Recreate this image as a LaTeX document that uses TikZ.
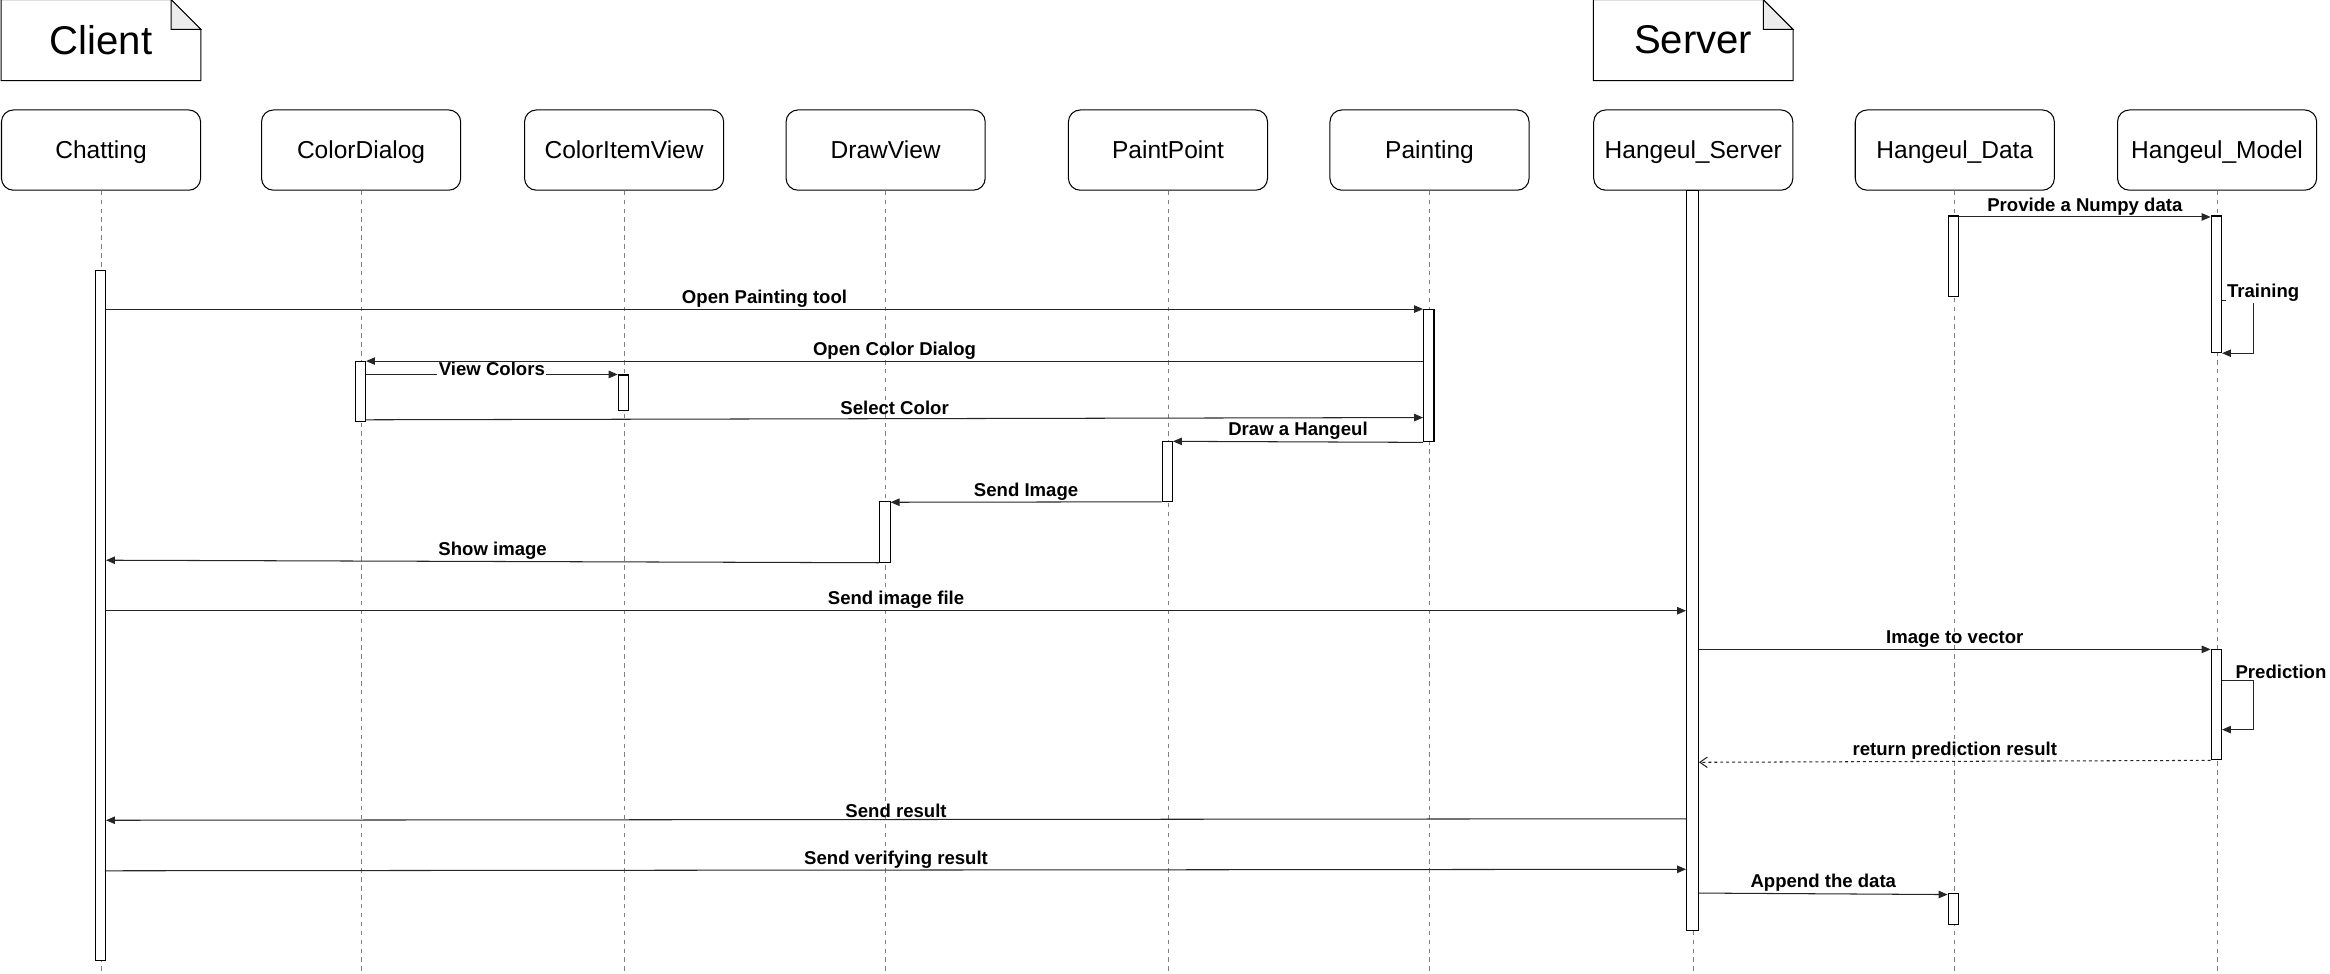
\documentclass[tikz,border=0pt]{standalone}
\usepackage{fontspec}
\setmainfont{Liberation Sans}
\usetikzlibrary{arrows.meta}
\begin{document}
\begin{tikzpicture}[x=1pt,y=-1pt,
  head/.style={draw, rounded corners=8pt, minimum width=134pt, minimum height=54pt, font=\fontsize{16.5}{18}\selectfont, inner sep=0pt, line width=0.7pt, text height=12pt, text depth=0pt},
  notebox/.style={minimum width=134pt, minimum height=54pt, font=\fontsize{27}{30}\selectfont, inner sep=0pt},
  notedraw/.style={line width=0.7pt},
  bar/.style={draw, fill=white, minimum width=7pt, inner sep=0pt, line width=0.7pt},
  life/.style={draw=gray, dash pattern=on 3pt off 3pt, line width=0.6pt},
  msg/.style={line width=0.7pt, draw=black!85, -{Triangle[length=6pt,width=5pt]}},
  ret/.style={line width=0.7pt, draw=black!85, dash pattern=on 2pt off 2pt, -{Straight Barb[length=5pt,width=7pt]}},
  lbl/.style={font=\bfseries\fontsize{12.5}{14}\selectfont, inner sep=1pt},
]
\useasboundingbox (0,0) rectangle (1568,655);

% notes
\node[notebox] (nClient) at (68,27) {Client};
\node[notebox] (nServer) at (1139.5,27) {Server};
\foreach \n in {nClient,nServer}{
  \draw[notedraw] (\n.north west) -- ([xshift=-20pt]\n.north east) -- ([yshift=-20pt]\n.north east) -- (\n.south east) -- (\n.south west) -- cycle;
  \draw[notedraw, fill=gray!15] ([xshift=-20pt]\n.north east) -- ([xshift=-20pt,yshift=-20pt]\n.north east) -- ([yshift=-20pt]\n.north east) -- cycle;
}

% heads
\node[head] (hChat) at (68,101) {Chatting};
\node[head] (hCD) at (243,101) {ColorDialog};
\node[head] (hCIV) at (420,101) {ColorItemView};
\node[head] (hDV) at (596,101) {DrawView};
\node[head] (hPP) at (786,101) {PaintPoint};
\node[head] (hPaint) at (962,101) {Painting};
\node[head] (hSrv) at (1139.5,101) {Hangeul\_Server};
\node[head] (hData) at (1315.5,101) {Hangeul\_Data};
\node[head] (hModel) at (1492,101) {Hangeul\_Model};

% lifelines
\foreach \h in {hChat,hCD,hCIV,hDV,hPP,hPaint,hSrv,hData,hModel}{
  \draw[life] (\h.south) -- (\h.south |- 0,655);
}

% activation bars
\node[bar, minimum height=464pt, anchor=north] (bChat) at (67.5,182) {};
\node[bar, minimum height=89pt, anchor=north] (bPaint) at (961.5,208) {};
\node[bar, minimum height=40pt, anchor=north] (bCD) at (242.5,243) {};
\node[bar, minimum height=24pt, anchor=north] (bCIV) at (419.5,252) {};
\node[bar, minimum height=40pt, anchor=north] (bPP) at (785.5,297) {};
\node[bar, minimum height=41pt, anchor=north] (bDV) at (595.5,337) {};
\node[bar, minimum height=498pt, minimum width=8pt, anchor=north] (bSrv) at (1139,128) {};
\node[bar, minimum height=54pt, anchor=north] (bData1) at (1314.5,145) {};
\node[bar, minimum height=21pt, anchor=north] (bData2) at (1314.5,601) {};
\node[bar, minimum height=92pt, anchor=north] (bModel1) at (1491.5,145) {};
\node[bar, minimum height=74pt, anchor=north] (bModel2) at (1491.5,437) {};

% messages
\draw[msg] (bData1.east |- 0,146) -- node[lbl, above] {Provide a Numpy data} (bModel1.west |- 0,146);
\draw[msg] (bModel1.east |- 0,202) -- ++(21,0) |- (bModel1.south east);
\node[lbl, fill=white] (tTrain) at (1523,197) {Training};

\draw[msg] (bChat.east |- bPaint.north) -- node[lbl, above] {Open Painting tool} (bPaint.north west);
\draw[msg] (bCD.east |- bCIV.north) -- node[lbl, fill=white, yshift=4pt] {View Colors} (bCIV.north west);
\draw[msg] (bPaint.west |- bCD.north) -- node[lbl, above] {Open Color Dialog} (bCD.north east);
\draw[msg] (bCD.east |- 0,282.5) -- node[lbl, above=1.5pt] {Select Color} (bPaint.west |- 0,281);
\draw[msg] (bPaint.south west) -- node[lbl, above] {Draw a Hangeul} (bPP.north east);
\draw[msg] (bPP.south west) -- node[lbl, above] {Send Image} (bDV.east |- 0,338);
\draw[msg] (bDV.south west) -- node[lbl, above] {Show image} (bChat.east |- 0,377);
\draw[msg] (bChat.east |- 0,411) -- node[lbl, above] {Send image file} (bSrv.west |- 0,411);
\draw[msg] (bSrv.east |- bModel2.north) -- node[lbl, above] {Image to vector} (bModel2.north west);
\draw[msg] (bModel2.east |- 0,458) -- ++(21,0) |- (bModel2.east |- 0,491);
\node[lbl, fill=white] (tPred) at (1535,452) {Prediction};
\draw[ret] (bModel2.south west) -- node[lbl, above] {return prediction result} (bSrv.east |- 0,513);
\draw[msg] (bSrv.west |- 0,551) -- node[lbl, above] {Send result} (bChat.east |- 0,552);
\draw[msg] (bChat.east |- 0,586) -- node[lbl, above] {Send verifying result} (bSrv.west |- 0,585);
\draw[msg] (bSrv.east |- 0,601) -- node[lbl, above] {Append the data} (bData2.west |- 0,602);
\end{tikzpicture}
\end{document}
